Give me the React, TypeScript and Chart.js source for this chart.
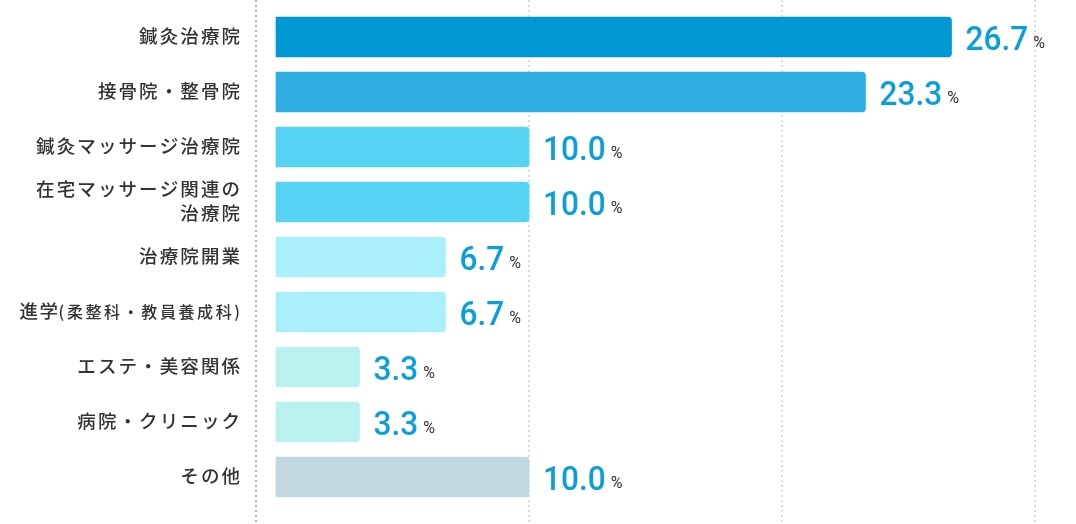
import React, { useEffect, useRef } from "react";
import { Chart, registerables } from "chart.js";

Chart.register(...registerables);

const categories = [
  "鍼灸治療院",
  "接骨院・整骨院",
  "鍼灸マッサージ治療院",
  "在宅マッサージ関連の\n治療院",
  "治療院開業",
  "進学(柔整科・教員養成科)",
  "エステ・美容関係",
  "病院・クリニック",
  "その他",
];
const values = [26.7, 23.3, 10.0, 10.0, 6.7, 6.7, 3.3, 3.3, 10.0];
const barColors = [
  "#0098d2",
  "#2eaee2",
  "#56d3f2",
  "#56d3f2",
  "#a9effc",
  "#a9effc",
  "#b8f1ee",
  "#b8f1ee",
  "#c1d8e0",
];
const gridTicks = [10, 20, 30];
const unit = "%";

const LABEL_FONT = '"Noto Sans CJK JP", "Noto Sans", sans-serif';
const NUM_FONT = 'Roboto, "Noto Sans", sans-serif';

function drawSpaced(ctx: any, text: string, xRight: number, y: number, size: number, spacing: number) {
  ctx.font = `500 ${size}px ${LABEL_FONT}`;
  ctx.letterSpacing = "0px";
  const w0 = ctx.measureText(text).width;
  const n = Array.from(text).length;
  const total = w0 + spacing * (n - 1);
  ctx.letterSpacing = `${spacing}px`;
  ctx.textAlign = "left";
  ctx.fillText(text, xRight - total, y);
  ctx.letterSpacing = "0px";
  return total;
}

function drawLabelLine(ctx: any, line: string, xRight: number, y: number) {
  const idx = line.indexOf("(");
  if (idx >= 0) {
    const main = line.slice(0, idx);
    const paren = line.slice(idx);
    const w = drawSpaced(ctx, paren, xRight, y + 0.5, 16, 2.6);
    drawSpaced(ctx, main, xRight - w - 0.5, y, 18.5, 1.5);
  } else {
    drawSpaced(ctx, line, xRight, y, 18.5, 2.1);
  }
}

const customPlugin = {
  id: "custom",
  beforeDatasetsDraw(chart: any) {
    const { ctx } = chart;
    const x = chart.scales.x;
    ctx.save();
    ctx.lineWidth = 2;
    ctx.setLineDash([2, 3]);
    ctx.strokeStyle = "#dcdcdc";
    gridTicks.forEach((t) => {
      const px = Math.round(x.getPixelForValue(t));
      ctx.beginPath();
      ctx.moveTo(px, 0);
      ctx.lineTo(px, chart.height);
      ctx.stroke();
    });
    ctx.strokeStyle = "#aab4bd";
    const ax = Math.round(x.left);
    ctx.beginPath();
    ctx.moveTo(ax, 0);
    ctx.lineTo(ax, chart.height);
    ctx.stroke();
    ctx.restore();
  },
  afterDatasetsDraw(chart: any) {
    const { ctx } = chart;
    const y = chart.scales.y;
    const meta = chart.getDatasetMeta(0);
    ctx.save();
    ctx.textBaseline = "middle";
    ctx.fillStyle = "#333333";
    categories.forEach((c, i) => {
      const cy = y.getPixelForValue(i) - 1;
      const lines = c.split("\n");
      const lh = 23.3;
      const start = cy - ((lines.length - 1) * lh) / 2;
      lines.forEach((ln, j) => drawLabelLine(ctx, ln, 240, start + j * lh));
    });
    ctx.textBaseline = "alphabetic";
    meta.data.forEach((bar: any, i: number) => {
      const txt = values[i].toFixed(1);
      const bx = bar.x + 14;
      const by = bar.y + 12.5;
      ctx.font = `500 34px ${NUM_FONT}`;
      ctx.fillStyle = "#0a9fda";
      ctx.textAlign = "left";
      ctx.save();
      ctx.translate(bx, by);
      ctx.scale(0.93, 1);
      ctx.fillText(txt, 0, 0);
      ctx.restore();
      const w = ctx.measureText(txt).width * 0.93;
      ctx.font = `400 16px ${NUM_FONT}`;
      ctx.fillStyle = "#333333";
      ctx.fillText(unit, bx + w + 5, by - 1.5);
    });
    ctx.restore();
  },
};

export default function App() {
  const ref = useRef<HTMLCanvasElement | null>(null);
  useEffect(() => {
    if (!ref.current) return;
    const chart = new Chart(ref.current, {
      type: "bar",
      data: {
        labels: categories,
        datasets: [
          {
            data: values,
            backgroundColor: barColors,
            borderRadius: 4,
            barThickness: 40,
          },
        ],
      },
      options: {
        indexAxis: "y",
        responsive: false,
        animation: false,
        layout: { padding: { left: 0, right: 0, top: 9.5, bottom: 19.5 } },
        plugins: { legend: { display: false }, tooltip: { enabled: false } },
        scales: {
          x: {
            type: "linear",
            min: -0.79,
            max: 31.62,
            display: false,
          },
          y: {
            type: "category",
            offset: true,
            grid: { display: false, drawTicks: false },
            border: { display: false },
            ticks: { display: false },
            afterFit: (scale: any) => {
              scale.width = 256;
            },
          },
        },
      },
      plugins: [customPlugin],
    });
    return () => chart.destroy();
  }, []);
  return (
    <div style={{ position: "fixed", left: 0, top: 0, width: 1076, height: 524, background: "#fff" }}>
      <canvas ref={ref} width={1076} height={524} style={{ display: "block" }} />
    </div>
  );
}
